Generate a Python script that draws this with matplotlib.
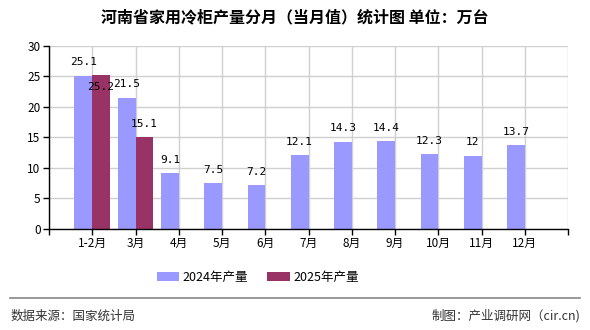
import numpy as np
import matplotlib.pyplot as plt

plt.rcParams['font.family'] = ['Noto Sans CJK SC', 'DejaVu Sans']

months = ['1-2月', '3月', '4月', '5月', '6月', '7月', '8月', '9月', '10月', '11月', '12月']
v2024 = [25.1, 21.5, 9.1, 7.5, 7.2, 12.1, 14.3, 14.4, 12.3, 12, 13.7]
v2025 = [25.2, 15.1]
labels2024 = ['25.1', '21.5', '9.1', '7.5', '7.2', '12.1', '14.3', '14.4', '12.3', '12', '13.7']
labels2025 = ['25.2', '15.1']

c2024 = '#9999ff'
c2025 = '#993366'

fig = plt.figure(figsize=(5.9, 3.3), dpi=100)
ax = fig.add_axes([0.083, 0.306, 0.88, 0.555])

x = np.arange(len(months))
w = 0.41
b1 = ax.bar(x - w / 2, v2024, w, color=c2024, label='2024年产量', zorder=3)
x2 = np.arange(len(v2025))
b2 = ax.bar(x2 + w / 2, v2025, w, color=c2025, label='2025年产量', zorder=3)

mono = ['DejaVu Sans Mono']
for xi, v, t in zip(x, v2024, labels2024):
    ax.annotate(t, (xi - w / 2, v), xytext=(0, 6), textcoords='offset points',
                ha='center', va='bottom', fontsize=8, family=mono, zorder=4)
# the first 2025 label was pushed down below the bar top in the original
off2025 = [-12, 6]
for xi, v, t, o in zip(x2, v2025, labels2025, off2025):
    ax.annotate(t, (xi + w / 2, v), xytext=(0, o), textcoords='offset points',
                ha='center', va='bottom', fontsize=8, family=mono, zorder=4)

ax.set_xlim(-1, 11)
ax.set_ylim(0, 30)
ax.set_yticks(range(0, 31, 5))
ax.set_xticks(np.arange(-1, 12), minor=False)
ax.set_xticklabels([''] + months + [''])
ax.tick_params(axis='both', labelsize=8.5, length=4, width=1, color='black', pad=2)
ax.grid(True, color='#d0d0d0', linewidth=1, zorder=0)
for s in ['top', 'right']:
    ax.spines[s].set_visible(False)
for s in ['left', 'bottom']:
    ax.spines[s].set_color('black')
    ax.spines[s].set_linewidth(1)
ax.spines['left'].set_zorder(5)
ax.spines['bottom'].set_zorder(5)

fig.text(0.5, 0.948, '河南省家用冷柜产量分月（当月值）统计图 单位：万台',
         ha='center', va='center', fontsize=11.5, fontweight='bold')

fig.legend(handles=[b1, b2], loc='center', bbox_to_anchor=(0.437, 0.16), ncol=2,
           frameon=False, fontsize=9, handlelength=1.8, handleheight=0.8,
           columnspacing=1.5, handletextpad=0.3)

fig.add_artist(plt.Line2D([0.017, 0.983], [0.097, 0.097], color='#888888', linewidth=1.2))
fig.text(0.017, 0.042, '数据来源：国家统计局', ha='left', va='center', fontsize=9, color='#333333')
fig.text(0.983, 0.042, '制图：产业调研网（cir.cn)', ha='right', va='center', fontsize=9, color='#333333')

fig.savefig('out.png', dpi=100)
